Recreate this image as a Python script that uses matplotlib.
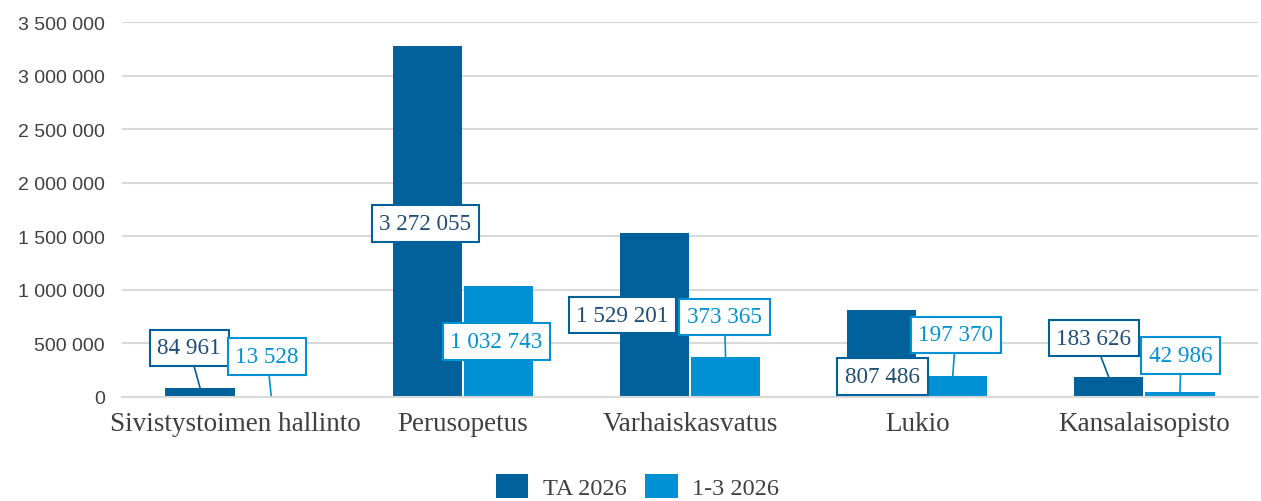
import matplotlib
matplotlib.use("Agg")
import matplotlib.pyplot as plt
import numpy as np

categories = ["Sivistystoimen hallinto", "Perusopetus", "Varhaiskasvatus", "Lukio", "Kansalaisopisto"]
ta_2026 = [84961, 3272055, 1529201, 807486, 183626]
q1_3_2026 = [13528, 1032743, 373365, 197370, 42986]
series_names = ["TA 2026", "1-3 2026"]
yticks = [0, 500000, 1000000, 1500000, 2000000, 2500000, 3000000, 3500000]

# label offsets from bar top, in pixels (dx, dy up)
ta_offsets = [(-11, 40), (-2, -177), (-32, -82), (1, -66), (-15, 39)]
q_offsets = [(-4, 39), (-2, -55), (-1, 40), (3, 41), (1, 37)]

dark = "#00619b"
light = "#0091d5"
dark_text = "#1f4e79"
grid_c = "#d9d9d9"
text_c = "#404040"


def fmt(v):
    return f"{v:,}".replace(",", " ")


W, H = 1261, 502
fig = plt.figure(figsize=(W / 100, H / 100), dpi=100)
ax = fig.add_axes([122 / W, 104 / H, 1136 / W, 375 / H])

x = np.arange(len(categories))
bw = 0.305
ax.bar(x - bw / 2 - 0.004, ta_2026, bw, color=dark, label=series_names[0], zorder=2)
ax.bar(x + bw / 2 + 0.004, q1_3_2026, bw, color=light, label=series_names[1], zorder=2)

ax.set_xlim(-0.5, len(categories) - 0.5)
ax.set_ylim(0, 3500000)
ax.set_yticks(yticks)
ax.set_yticklabels([fmt(v) for v in yticks], fontfamily="Liberation Sans", fontsize=14, color=text_c)
ax.set_xticks(x)
ax.set_xticklabels(categories, fontfamily="Liberation Serif", fontsize=19.5, color=text_c)
ax.tick_params(length=0, axis="y", pad=12.5)
ax.tick_params(length=0, axis="x", pad=10)
ax.grid(axis="y", color=grid_c, linewidth=1.5, zorder=0)
ax.set_axisbelow(True)
for s in ["top", "right", "left"]:
    ax.spines[s].set_visible(False)
ax.spines["bottom"].set_color(grid_c)
ax.spines["bottom"].set_linewidth(1.5)


def label(xpos, val, off, col, tcol):
    dx, dy = off
    kw = dict(
        xy=(xpos, val), xytext=(dx * 0.72, dy * 0.72), textcoords="offset points",
        ha="center", va="center", fontsize=16.7, fontfamily="Liberation Serif", color=tcol,
        bbox=dict(boxstyle="square,pad=0.33", fc="white", ec=col, lw=1.5), zorder=5,
    )
    if dy > 0:
        kw["arrowprops"] = dict(arrowstyle="-", color=col, lw=1.2, shrinkA=0, shrinkB=0)
    ax.annotate(fmt(val), **kw)


for i in range(len(categories)):
    label(x[i] - bw / 2 - 0.004, ta_2026[i], ta_offsets[i], dark, dark_text)
    label(x[i] + bw / 2 + 0.004, q1_3_2026[i], q_offsets[i], light, light)

fig.legend(loc="lower center", bbox_to_anchor=(0.5055, -0.04), ncol=2, frameon=False,
           prop={"family": "Liberation Serif", "size": 17.5}, labelcolor=text_c,
           handlelength=1.35, handleheight=1.1, columnspacing=0.75, handletextpad=0.6)

fig.savefig("out.png", dpi=100)
